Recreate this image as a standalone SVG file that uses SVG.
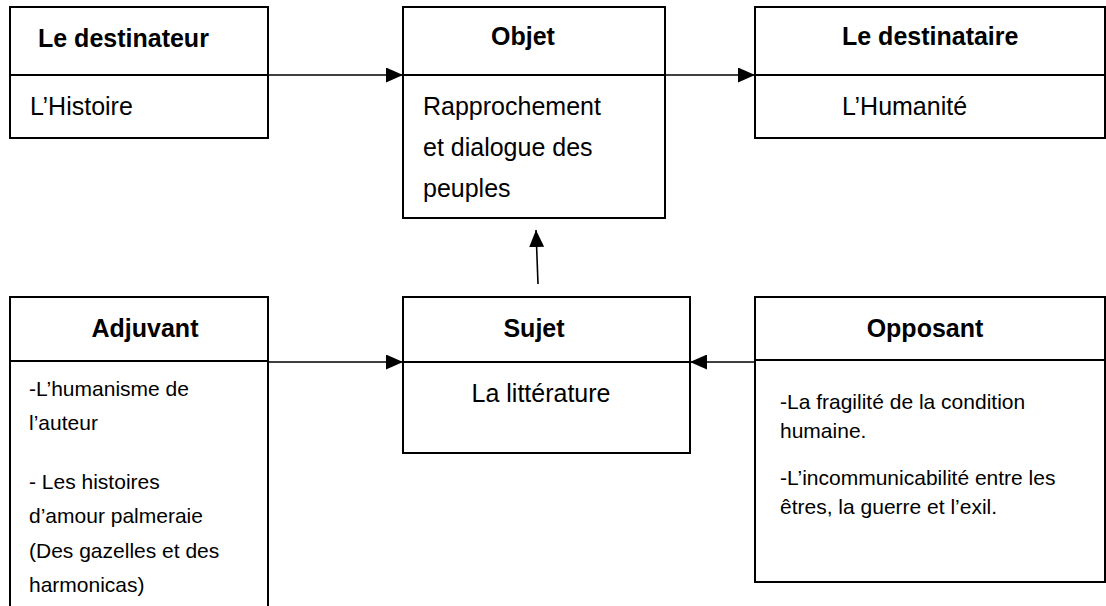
<svg xmlns="http://www.w3.org/2000/svg" width="1106" height="606" viewBox="0 0 1106 606">
<style>
.box{fill:none;stroke:#000;stroke-width:2}
.div{stroke:#000;stroke-width:2}
.con{fill:none;stroke:#000;stroke-width:1.6}
.h{font-family:"Liberation Sans",Arial,sans-serif;font-weight:bold;font-size:25px;fill:#000}
.t{font-family:"Liberation Sans",Arial,sans-serif;font-size:25px;fill:#000}
.s{font-family:"Liberation Sans",Arial,sans-serif;font-size:21px;fill:#000}
.m{text-anchor:middle}
</style>
<defs>
<marker id="ah" viewBox="0 0 17 15" refX="17" refY="7.5" markerWidth="17" markerHeight="15" markerUnits="userSpaceOnUse" orient="auto">
<path d="M0,0 L17,7.5 L0,15 z" fill="#000"/>
</marker>
</defs>
<rect width="1106" height="606" fill="#fff"/>
<g id="destinateur">
<rect class="box" x="10" y="7" width="258" height="131"/>
<line class="div" x1="10" y1="75" x2="268" y2="75"/>
<text class="h" x="38" y="47">Le destinateur</text>
<text class="t" x="30" y="115">L’Histoire</text>
</g>
<g id="objet">
<rect class="box" x="403" y="7" width="262" height="211"/>
<line class="div" x1="403" y1="75" x2="665" y2="75"/>
<text class="h m" x="523" y="45">Objet</text>
<text class="t" x="423" y="115">Rapprochement</text>
<text class="t" x="423" y="156">et dialogue des</text>
<text class="t" x="423" y="197">peuples</text>
</g>
<g id="destinataire">
<rect class="box" x="755" y="7" width="350" height="131"/>
<line class="div" x1="755" y1="75" x2="1105" y2="75"/>
<text class="h" x="842" y="45">Le destinataire</text>
<text class="t" x="842" y="115">L’Humanité</text>
</g>
<g id="adjuvant">
<path class="box" d="M10,612 V297 H268 V612"/>
<line class="div" x1="10" y1="361" x2="268" y2="361"/>
<text class="h m" x="145" y="337">Adjuvant</text>
<text class="s" x="29" y="396">-L’humanisme de</text>
<text class="s" x="29" y="430">l’auteur</text>
<text class="s" x="29" y="489">- Les histoires</text>
<text class="s" x="29" y="523">d’amour palmeraie</text>
<text class="s" x="29" y="558">(Des gazelles et des</text>
<text class="s" x="29" y="592">harmonicas)</text>
</g>
<g id="sujet">
<rect class="box" x="403" y="297" width="287" height="156"/>
<line class="div" x1="403" y1="362" x2="690" y2="362"/>
<text class="h m" x="534" y="337">Sujet</text>
<text class="t m" x="541" y="402">La littérature</text>
</g>
<g id="opposant">
<rect class="box" x="755" y="297" width="350" height="285"/>
<line class="div" x1="755" y1="360" x2="1105" y2="360"/>
<text class="h m" x="925" y="337">Opposant</text>
<text class="s" x="780" y="409">-La fragilité de la condition</text>
<text class="s" x="780" y="438">humaine.</text>
<text class="s" x="780" y="485">-L’incommunicabilité entre les</text>
<text class="s" x="780" y="514">êtres, la guerre et l’exil.</text>
</g>
<g id="connectors">
<path class="con" d="M268,75 H403" marker-end="url(#ah)"/>
<path class="con" d="M665,75 H755" marker-end="url(#ah)"/>
<path class="con" d="M538,284 L536,230" marker-end="url(#ah)"/>
<path class="con" d="M268,362 H403" marker-end="url(#ah)"/>
<path class="con" d="M755,362 H690" marker-end="url(#ah)"/>
</g>
</svg>
